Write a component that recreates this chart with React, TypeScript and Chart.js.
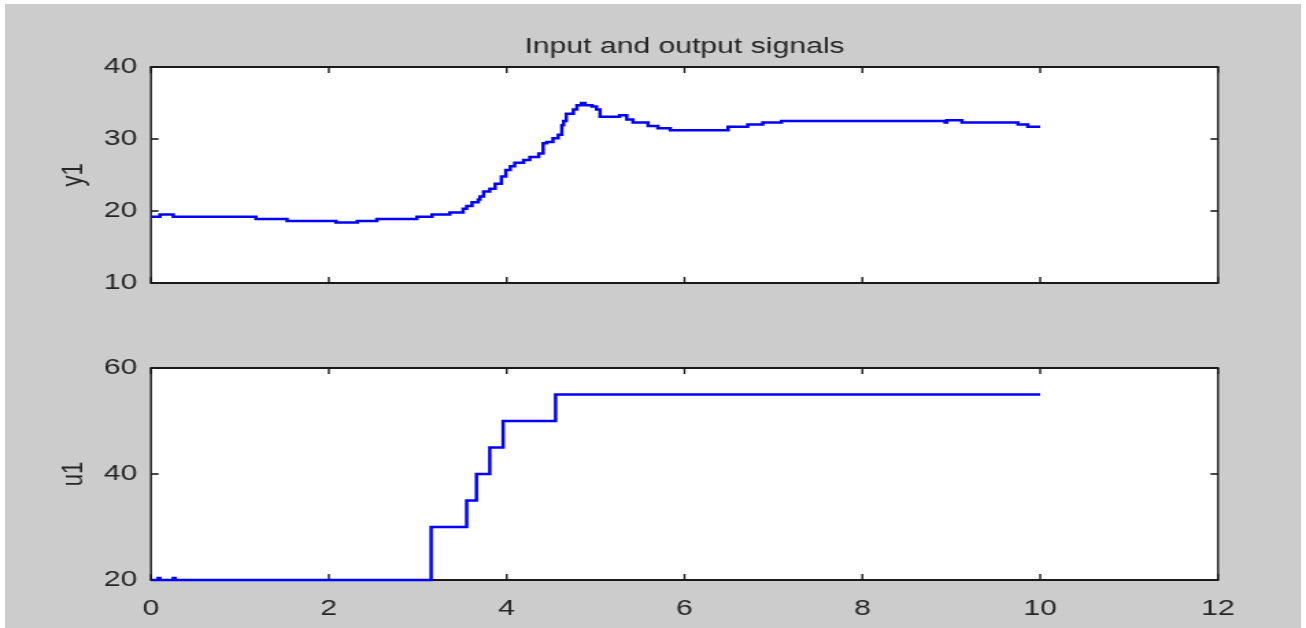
import React, { useEffect, useRef } from "react";
import { Chart, registerables } from "chart.js";

Chart.register(...registerables);

// ---- data ----
const xTicksMin = 0;
const xTicksMax = 12;
const xTickStep = 2;

const y1Time = [0, 0.10, 0.25, 1.18, 1.53, 2.08, 2.32, 2.54, 2.99, 3.16, 3.36, 3.51, 3.55, 3.61, 3.68, 3.70, 3.74, 3.81, 3.87, 3.94, 3.99, 4.04, 4.09, 4.19, 4.26, 4.36, 4.41, 4.45, 4.52, 4.58, 4.62, 4.64, 4.67, 4.75, 4.79, 4.84, 4.88, 4.96, 5.01, 5.05, 5.27, 5.35, 5.42, 5.59, 5.70, 5.84, 6.49, 6.71, 6.88, 7.09, 8.93, 8.95, 9.12, 9.75, 9.86, 10.0];
const y1Value = [19.2, 19.5, 19.2, 18.9, 18.6, 18.4, 18.6, 18.9, 19.2, 19.5, 19.8, 20.3, 20.7, 21.2, 21.6, 22.0, 22.7, 23.1, 23.8, 24.8, 25.7, 26.2, 26.7, 27.1, 27.5, 28.0, 29.4, 29.6, 30.1, 30.6, 31.9, 32.5, 33.5, 34.1, 34.7, 35.0, 34.7, 34.5, 34.1, 33.1, 33.3, 32.7, 32.3, 31.8, 31.5, 31.2, 31.7, 32.0, 32.3, 32.5, 32.3, 32.6, 32.3, 32.0, 31.7, 31.7];

const u1Time = [0, 0.08, 0.10, 0.25, 0.27, 3.15, 3.55, 3.66, 3.81, 3.96, 4.55, 10.0];
const u1Value = [20, 20.4, 20, 20.4, 20, 30, 35, 40, 45, 50, 55, 55];

const y1Range = [10, 40, 10];
const u1Range = [20, 60, 20];

const titleText = "Input and output signals";
const y1Label = "y1";
const u1Label = "u1";

// ---- layout (CSS px) ----
const W_CSS = 1306;
const STRETCH = 1.3704;
const W_INT = Math.round(W_CSS / STRETCH); // 953
const PLOT_LEFT = 151 / STRETCH;
const PLOT_RIGHT = 1218 / STRETCH;
const FONT = "'Liberation Sans', Arial, Helvetica, sans-serif";
const TEXT_COLOR = "#262626";

const framePlugin = {
  id: "frame",
  beforeDraw(chart: any) {
    const { ctx, chartArea: a } = chart;
    ctx.save();
    ctx.fillStyle = "#ffffff";
    ctx.fillRect(a.left, a.top, a.right - a.left, a.bottom - a.top);
    ctx.restore();
  },
  beforeDatasetsDraw(chart: any) {
    const { ctx, chartArea: a, scales } = chart;
    ctx.save();
    ctx.strokeStyle = "#1a1a1a";
    const line = (x1: number, y1: number, x2: number, y2: number) => {
      ctx.beginPath();
      ctx.moveTo(x1, y1);
      ctx.lineTo(x2, y2);
      ctx.stroke();
    };
    ctx.lineWidth = 1.4;
    scales.x.ticks.forEach((t: any) => {
      const px = scales.x.getPixelForValue(t.value);
      line(px, a.bottom, px, a.bottom - 6);
      line(px, a.top, px, a.top + 6);
    });
    ctx.lineWidth = 1.6;
    scales.y.ticks.forEach((t: any) => {
      const py = scales.y.getPixelForValue(t.value);
      line(a.left, py, a.left + 5.5, py);
      line(a.right, py, a.right - 5.5, py);
    });
    // border
    ctx.lineWidth = 2;
    line(a.left - 0.7, a.top, a.right + 0.7, a.top);
    line(a.left - 0.7, a.bottom, a.right + 0.7, a.bottom);
    ctx.lineWidth = 1.4;
    line(a.left, a.top, a.left, a.bottom);
    line(a.right, a.top, a.right, a.bottom);
    ctx.restore();
  },
};

function makeConfig(
  times: number[],
  values: number[],
  range: number[],
  yLabel: string,
  isTop: boolean,
  height: number,
  plotTop: number,
  plotBottom: number
): any {
  const pts = times.map((t, i) => ({ x: t, y: values[i] }));
  return {
    type: "line",
    data: {
      datasets: [
        {
          data: pts,
          stepped: true,
          borderColor: "#0000ff",
          borderWidth: 2.5,
          pointRadius: 0,
          fill: false,
          tension: 0,
          clip: false,
        },
      ],
    },
    options: {
      animation: false,
      responsive: false,
      devicePixelRatio: 1,
      layout: {
        padding: {
          left: 0,
          right: W_INT - PLOT_RIGHT,
          top: isTop ? 0 : plotTop,
          bottom: 0,
        },
      },
      plugins: {
        legend: { display: false },
        tooltip: { enabled: false },
        title: isTop
          ? {
              display: true,
              text: titleText,
              fullSize: false,
              color: TEXT_COLOR,
              font: { family: FONT, size: 22, weight: "normal", lineHeight: 1.2 },
              padding: { top: plotTop - 26.4 - 6.6, bottom: 6.6 },
            }
          : { display: false },
      },
      scales: {
        x: {
          type: "linear",
          min: xTicksMin,
          max: xTicksMax,
          ticks: {
            stepSize: xTickStep,
            display: !isTop,
            color: TEXT_COLOR,
            padding: 16,
            maxRotation: 0,
            font: { family: FONT, size: 22 },
          },
          grid: { display: false, drawTicks: false },
          border: { display: false },
          afterFit: (s: any) => {
            s.height = height - plotBottom;
          },
        },
        y: {
          type: "linear",
          min: range[0],
          max: range[1],
          ticks: {
            stepSize: range[2],
            color: TEXT_COLOR,
            padding: 10,
            font: { family: FONT, size: 22 },
          },
          grid: { display: false, drawTicks: false },
          border: { display: false },
          title: {
            display: true,
            text: yLabel,
            color: TEXT_COLOR,
            font: { family: FONT, size: 22, lineHeight: 1.2 },
            padding: { top: 40.8, bottom: 0 },
          },
          afterFit: (s: any) => {
            s.width = PLOT_LEFT;
          },
        },
      },
    },
    plugins: [framePlugin],
  };
}

const TOP_H = 330;
const BOT_TOP = 320;
const BOT_H = 308;

export default function App() {
  const topRef = useRef<HTMLCanvasElement | null>(null);
  const botRef = useRef<HTMLCanvasElement | null>(null);

  useEffect(() => {
    const c1 = new Chart(
      topRef.current as HTMLCanvasElement,
      makeConfig(y1Time, y1Value, y1Range, y1Label, true, TOP_H, 67, 283)
    );
    const c2 = new Chart(
      botRef.current as HTMLCanvasElement,
      makeConfig(u1Time, u1Value, u1Range, u1Label, false, BOT_H, 368 - BOT_TOP, 580 - BOT_TOP)
    );
    return () => {
      c1.destroy();
      c2.destroy();
    };
  }, []);

  return (
    <div
      style={{
        position: "absolute",
        left: 0,
        top: 0,
        width: W_CSS,
        height: 628,
        background: "#ffffff",
        overflow: "hidden",
      }}
    >
      <div
        style={{
          position: "absolute",
          left: 5,
          top: 4,
          width: 1296,
          height: 624,
          background: "#cccccc",
        }}
      />
      <canvas
        ref={topRef}
        width={W_INT}
        height={TOP_H}
        style={{ position: "absolute", left: 0, top: 0, width: W_CSS + "px", height: TOP_H + "px" }}
      />
      <canvas
        ref={botRef}
        width={W_INT}
        height={BOT_H}
        style={{ position: "absolute", left: 0, top: BOT_TOP, width: W_CSS + "px", height: BOT_H + "px" }}
      />
    </div>
  );
}
